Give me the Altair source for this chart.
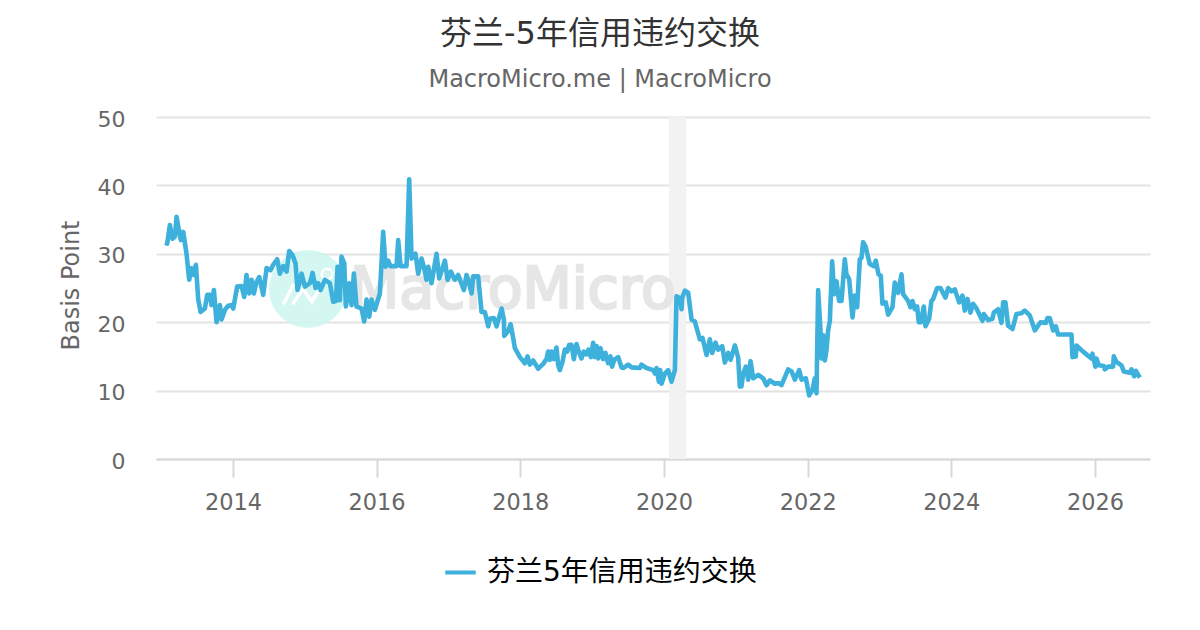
import altair as alt
import pandas as pd

SERIES = "芬兰5年信用违约交换"
TITLE = "芬兰-5年信用违约交换"
SUBTITLE = "MacroMicro.me | MacroMicro"
FONT = "DejaVu Sans, Noto Sans CJK SC"
BLUE = "#3eb0dc"

years = [
2013.054,2013.086,2013.123,2013.160,2013.193,2013.216,2013.253,2013.276,2013.309,2013.355,2013.392,2013.425,2013.448,2013.485,2013.518,2013.550,2013.610,2013.643,2013.680,2013.703,2013.736,2013.773,2013.819,2013.842,2013.889,2013.935,2013.982,
2014.005,2014.060,2014.121,2014.158,2014.190,2014.227,2014.260,2014.292,2014.329,2014.367,2014.422,2014.469,2014.524,2014.561,2014.617,2014.654,2014.701,2014.747,2014.784,2014.830,2014.872,2014.900,2014.956,
2015.002,2015.072,2015.109,2015.151,2015.188,2015.220,2015.281,2015.350,2015.396,2015.434,2015.457,2015.489,2015.512,2015.550,2015.573,2015.619,2015.652,2015.684,2015.721,2015.791,2015.828,2015.860,2015.898,2015.930,2015.976,
2016.046,2016.092,2016.125,2016.162,2016.194,2016.278,2016.301,2016.334,2016.417,2016.454,2016.487,2016.542,2016.579,2016.626,2016.658,2016.695,2016.719,2016.765,2016.835,2016.872,2016.951,2016.988,
2017.034,2017.090,2017.136,2017.215,2017.252,2017.275,2017.322,2017.345,2017.414,2017.461,2017.507,2017.554,2017.577,2017.633,2017.670,2017.740,2017.772,2017.777,2017.832,2017.865,2017.893,2017.925,2017.995,
2018.064,2018.101,2018.134,2018.180,2018.250,2018.319,
2018.365,2018.388,2018.412,2018.435,2018.467,2018.504,2018.528,2018.551,2018.588,2018.620,2018.653,2018.681,2018.713,2018.746,2018.783,2018.815,2018.852,2018.885,2018.922,2018.950,2018.982,
2019.015,2019.038,2019.061,2019.084,2019.117,2019.154,2019.186,2019.223,2019.256,2019.279,2019.307,2019.363,2019.409,
2019.433,2019.502,2019.549,2019.665,2019.688,2019.758,2019.850,2019.874,2019.897,2019.929,2019.948,2019.966,
2020.013,2020.059,2020.105,2020.152,2020.175,2020.221,2020.245,2020.254,2020.291,2020.337,2020.384,2020.430,2020.500,2020.537,2020.593,2020.639,2020.671,2020.718,2020.755,2020.811,2020.848,2020.894,2020.927,2020.987,
2021.033,2021.056,2021.079,2021.103,2021.140,2021.172,2021.205,2021.242,2021.312,2021.381,2021.428,2021.474,2021.544,2021.590,2021.636,2021.729,2021.776,2021.822,2021.882,2021.915,2021.975,
2022.021,2022.067,2022.100,2022.123,2022.146,2022.179,2022.193,2022.216,2022.239,2022.262,2022.285,2022.309,2022.341,2022.369,2022.401,2022.438,2022.471,2022.517,2022.540,2022.578,2022.624,2022.656,2022.689,2022.726,2022.749,2022.772,2022.805,2022.865,2022.921,2022.949,2022.986,
2023.018,2023.041,2023.088,2023.120,2023.181,2023.213,2023.260,2023.306,2023.329,2023.399,2023.431,2023.459,2023.491,2023.524,2023.547,2023.575,2023.617,2023.640,2023.691,2023.723,2023.747,2023.802,2023.849,2023.918,2023.955,
2024.002,2024.048,2024.108,2024.155,2024.187,2024.224,2024.266,2024.303,2024.350,2024.433,2024.452,2024.512,2024.572,2024.591,2024.651,2024.698,2024.721,2024.753,2024.790,2024.851,2024.906,2024.976,
2025.022,2025.092,2025.162,2025.240,2025.315,2025.338,2025.370,2025.417,2025.454,2025.486,2025.672,2025.686,2025.732,2025.741,2025.834,2025.950,2025.964,
2026.006,2026.020,2026.052,2026.122,2026.136,2026.182,2026.252,2026.261,2026.298,2026.368,2026.400,2026.484,2026.507,2026.544,2026.567,2026.623,
]

values = [
31.6,31.5,34.2,32.2,32.5,35.4,33.2,32,33.2,30,26.2,27.9,26.9,28.4,23.3,21.5,22,24,24,22.5,24.7,20,22.5,20.4,21.8,22.4,22.5,
22,25.2,25.3,23.7,26.9,24.2,26.2,24.2,25.9,26.6,24,27.9,27.6,28.4,29.2,27.1,28.2,27.4,30.4,29.8,28.6,24.7,27.1,
25.2,25.7,27.2,25,25.7,24.7,26.2,25.7,23,23.1,28.1,23.2,29.6,28.6,22.3,25.7,22.5,27.1,22.3,22,20.1,23.3,20.8,23.3,21.8,
24.2,33.2,28.1,29,28.2,28.2,32,28.2,28.2,40.9,29.3,30,27.1,29.3,28.1,26.2,28.1,25.7,30,26.4,29,26.2,
27.4,26.2,26.9,24.7,26.9,26.2,24.2,26.7,26.7,21.5,21.5,19.4,20.5,20.6,19.4,22,20.4,18,18.7,19.7,18.2,16.2,14.9,
14,15,13.8,14.4,13.2,13.9,
14.6,15.7,14.5,15.7,14.6,16.3,13.7,13,14.2,16,15.7,16.7,16.7,14.6,16.8,15.7,14.7,15.7,15.3,16,14.9,
17,14.9,16.5,14.7,16.2,14.6,15.5,14,15,13.5,14.5,14.9,13.4,
13.3,13.8,13.4,13.3,13.8,13.3,13,12.5,13.3,11.3,13,11,
12.5,13,11.3,13,23.8,23.5,21.9,23.6,24.6,24.3,20.4,20.1,17.5,17.7,15.2,17.5,15.5,17,16,16.5,14.1,15.5,14.5,16.6,
14.8,10.6,10.6,12.5,13.5,11.6,14.3,11.8,12.3,11.8,10.8,11.5,11,11.1,10.8,13.1,12.8,11.6,13,11.6,11.8,
9.3,10.1,11.8,9.6,24.7,18.8,14.7,18.1,14.4,15.9,18.8,20.2,28.9,24.1,26,23.1,23.1,29.2,27,26.3,20.7,23.9,22.2,29.2,29.4,31.7,31.1,28.5,28.2,29,27,
26.8,22.7,22.9,21.1,22.2,25.8,24.3,27,24.1,23.1,22.2,23.1,21.9,22.3,20,20,22.3,19.4,20.5,23.1,23.4,25,25,23.6,25,
24.5,24.8,22.9,23.9,21.7,23.4,21.4,22.7,22,20.2,21.2,20.3,20.5,21.4,21.9,19.9,22.9,22.9,19.5,19,21.2,21.3,
21.7,21,18.8,20,19.9,20.6,20.6,18.8,19.4,18.2,18.2,14.9,15,16.6,15.7,14.7,15.4,
13.5,14.7,13.7,13.6,13.1,13.5,13.5,15,14.2,13.7,12.8,12.6,13.1,12.1,12.9,11.9,
]

y_ticks = [0, 10, 20, 30, 40, 50]
x_ticks = [2014, 2016, 2018, 2020, 2022, 2024, 2026]
band_start = [2020.07]
band_end = [2020.31]
logo_x = [2014.71, 2014.84, 2014.84, 2014.975, 2015.10, 2015.28]
logo_y = [22.8, 25.4, 22.8, 24.85, 23.0, 26.2]
logo_group = ["a", "a", "b", "b", "b", "b"]

df = pd.DataFrame({"year": years, "value": values, "series": [SERIES] * len(years)})
x_scale = alt.Scale(domain=[2012.93, 2026.765], nice=False, zero=False)
y_scale = alt.Scale(domain=[0, 50], nice=False)

x_enc = alt.X(
    "year:Q", scale=x_scale, title=None,
    axis=alt.Axis(values=x_ticks, format="d", grid=False, tickSize=18, tickColor="#d8d8d8",
                  tickWidth=2, domainColor="#d8d8d8", domainWidth=2, labelColor="#666666",
                  labelFontSize=22.4, labelPadding=14, labelFont=FONT, labelFlush=False),
)
y_enc = alt.Y(
    "value:Q", scale=y_scale,
    axis=alt.Axis(values=y_ticks, title="Basis Point", grid=True, gridColor="#e3e3e3", gridWidth=2,
                  domain=False, ticks=False, labelColor="#666666", labelFontSize=22, labelPadding=31,
                  labelOffset=2, labelFont=FONT, titleFont=FONT, titleColor="#666666", titleFontSize=24,
                  titleFontWeight="normal", titlePadding=14, titleY=168),
)

band = alt.Chart(pd.DataFrame({"a": band_start, "b": band_end})).mark_rect(color="#f2f2f2").encode(
    x=alt.X("a:Q", scale=x_scale), x2="b:Q"
)
circle = alt.Chart(pd.DataFrame({"n": [1]})).mark_circle(color="#cef6ee", opacity=0.85, size=6084).encode(
    x=alt.value(152), y=alt.value(172)
)
ring = alt.Chart(pd.DataFrame({"n": [1]})).mark_point(color="#ffffff", strokeWidth=2.5, size=110, filled=False, opacity=1).encode(
    x=alt.value(171), y=alt.value(157)
)
logo = alt.Chart(pd.DataFrame({"x": logo_x, "y": logo_y, "g": logo_group})).mark_line(
    color="#ffffff", strokeWidth=3.5, strokeCap="round"
).encode(x=alt.X("x:Q", scale=x_scale), y=alt.Y("y:Q", scale=y_scale), detail="g:N")
wm = alt.Chart(pd.DataFrame({"t": ["MacroMicro"]})).mark_text(
    color="#e6e6e6", fontSize=57, font=FONT, align="left", baseline="middle", stroke="#e6e6e6", strokeWidth=2.5
).encode(x=alt.value(194), y=alt.value(174), text="t:N")

line = alt.Chart(df).mark_line(strokeWidth=4.6, strokeJoin="round").encode(
    x=x_enc, y=y_enc,
    color=alt.Color("series:N", scale=alt.Scale(domain=[SERIES], range=[BLUE]),
                    legend=alt.Legend(title=None, orient="none", legendX=287, legendY=438,
                                      symbolType="stroke", symbolSize=930, symbolStrokeWidth=4,
                                      labelOffset=9, labelFontSize=28, labelFont=FONT,
                                      labelColor="#000000", labelLimit=400)),
)

chart = alt.layer(band, circle, wm, ring, logo, line).properties(
    width=994, height=342,
    padding={"left": 148, "top": 109, "right": 40, "bottom": 160},
    autosize=alt.AutoSizeParams(type="none"),
    background="#ffffff",
    title=alt.TitleParams(text=TITLE, subtitle=SUBTITLE, anchor="middle", dx=-53, offset=15, font=FONT,
                          fontSize=32, fontWeight="normal", color="#333333", subtitleFont=FONT,
                          subtitleFontSize=24, subtitleColor="#666666", subtitlePadding=17),
).configure_view(stroke=None)

chart.save("out.html", embed_options={"renderer": "svg", "actions": False})
